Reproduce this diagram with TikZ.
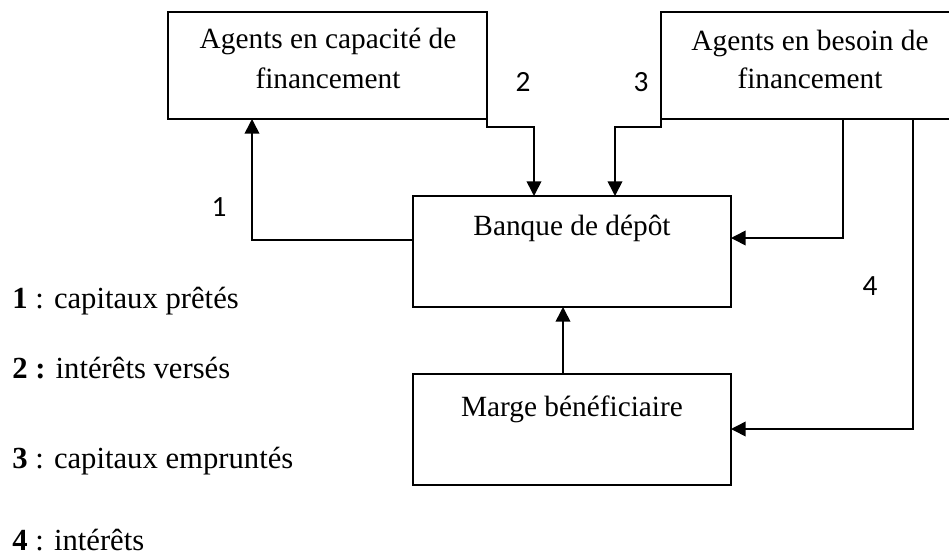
\documentclass[tikz,border=0pt]{standalone}
\usepackage{fontspec}
\setmainfont{Liberation Serif}
\newfontfamily\calib{Carlito}
\usetikzlibrary{arrows.meta}
\begin{document}
\begin{tikzpicture}[x=0.75pt,y=-0.75pt,
  box/.style={draw, line width=0.8pt, rectangle, inner sep=0pt, outer sep=0pt},
  conn/.style={line width=1.2pt},
  arr/.style={conn, -{Triangle[length=11pt,width=11pt]}},
  txt/.style={font=\fontsize{22}{26}\selectfont, inner sep=0pt, anchor=base},
  num/.style={font=\calib\fontsize{22}{26}\selectfont, inner sep=0pt},
  leg/.style={font=\fontsize{23}{27}\selectfont, inner sep=0pt, anchor=base west}]
\useasboundingbox (0,0) rectangle (949,558);
\clip (0,0) rectangle (949,558);
% boxes
\node[box, minimum width=239.25pt, minimum height=80.25pt] (A) at (327.5,65.5) {};
\node[box, minimum width=223.5pt, minimum height=80.25pt] (C) at (810,65.5) {};
\node[box, minimum width=238.5pt, minimum height=83.25pt] (B) at (572,251.5) {};
\node[box, minimum width=238.5pt, minimum height=83.25pt] (D) at (572,429.5) {};
% box texts
\node[txt] (A1) at (328,48) {Agents en capacité de};
\node[txt] (A2) at (328,88) {financement};
\node[txt] (C1) at (810,50) {Agents en besoin de};
\node[txt] (C2) at (810,88) {financement};
\node[txt] (B1) at (572,235) {Banque de dépôt};
\node[txt] (D1) at (572,416) {Marge bénéficiaire};
% helper coordinates
\coordinate (c1) at (252,240);
\coordinate (c2a) at (487,60);
\coordinate (c2b) at (534,127);
\coordinate (c3a) at (661,60);
\coordinate (c3b) at (615,127);
\coordinate (c4) at (843,238);
\coordinate (c5) at (913,429);
\coordinate (c6) at (563,0);
% connectors
\draw[arr] (B.west |- c1) -- (c1) -- (c1 |- A.south);
\draw[arr] (A.east |- c2a) -- (A.east |- c2b) -- (c2b) -- (c2b |- B.north);
\draw[arr] (C.west |- c3a) -- (C.west |- c3b) -- (c3b) -- (c3b |- B.north);
\draw[arr] (c4 |- C.south) -- (c4) -- (c4 -| B.east);
\draw[arr] (c5 |- C.south) -- (c5) -- (c5 -| D.east);
\draw[arr] (c6 |- D.north) -- (c6 |- B.south);
% labels
\node[num] (n1) at (219,207) {1};
\node[num] (n2) at (523,82) {2};
\node[num] (n3) at (641,82) {3};
\node[num] (n4) at (870,286) {4};
% legend
\node[leg] (L1) at (12,308) {\textbf{1} : capitaux prêtés};
\node[leg] (L2) at (12,378) {\textbf{2 :} intérêts versés};
\node[leg] (L3) at (12,468) {\textbf{3} : capitaux empruntés};
\node[leg] (L4) at (12,550) {\textbf{4} : intérêts};
\end{tikzpicture}
\end{document}
